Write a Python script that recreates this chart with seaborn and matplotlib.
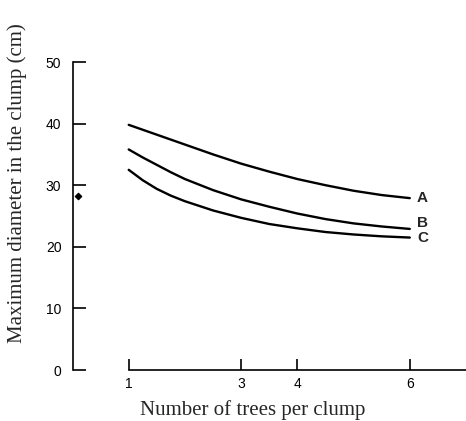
import pandas as pd
import matplotlib
matplotlib.use('Agg')
import matplotlib.pyplot as plt
import seaborn as sns

# number of trees per clump
trees = [1, 1.25, 1.5, 1.75, 2, 2.5, 3, 3.5, 4, 4.5, 5, 5.5, 6]
# maximum diameter (cm)
diam_a = [39.8, 39.0, 38.2, 37.4, 36.6, 35.0, 33.5, 32.2, 31.0, 30.0, 29.1, 28.4, 27.9]
diam_b = [35.8, 34.5, 33.3, 32.1, 31.0, 29.2, 27.7, 26.5, 25.4, 24.5, 23.8, 23.3, 22.9]
diam_c = [32.5, 30.8, 29.4, 28.3, 27.4, 25.9, 24.7, 23.7, 23.0, 22.4, 22.0, 21.7, 21.5]
curve_names = ['A', 'B', 'C']
label_y = [27.9, 23.9, 21.4]
x_ticks = [1, 3, 4, 6]
y_ticks = [0, 10, 20, 30, 40, 50]
# stray dot next to the y axis
dot_x = [0.1]
dot_y = [28.2]

df = pd.DataFrame({
    'trees': trees * 3,
    'diam': diam_a + diam_b + diam_c,
    'curve': [n for n in curve_names for _ in trees],
})

sns.set_theme(style='ticks')
plt.rcParams['font.family'] = ['Liberation Sans', 'DejaVu Sans']

fig = plt.figure(figsize=(4.66, 4.21), dpi=100)
ax = fig.add_axes([72.5 / 466, 51 / 421, (466 - 72.5) / 466, 308 / 421])

sns.lineplot(data=df, x='trees', y='diam', hue='curve',
             palette=['black'] * 3, linewidth=1.7, legend=False, ax=ax)
for line in ax.lines:
    line.set_solid_joinstyle('round')
    line.set_solid_capstyle('round')
ax.scatter(dot_x, dot_y, marker='D', s=10, color='black', zorder=3)

# curve labels at the right ends
for name, ly in zip(curve_names, label_y):
    ax.text(trees[-1] + 0.13, ly, name,
            fontsize=11, fontweight='bold', va='center', ha='left')

ax.set_xlim(0, 7)
ax.set_ylim(0, 50)
ax.set_xticks(x_ticks)
ax.set_yticks(y_ticks)
ax.set_xticklabels([str(t) for t in x_ticks])
ax.set_yticklabels([str(t) for t in y_ticks])
ax.set_xlabel('')
ax.set_ylabel('')

sns.despine(ax=ax)
ax.spines['left'].set_bounds(0, 50)
ax.spines['bottom'].set_bounds(1, 7)
for s in ['left', 'bottom']:
    ax.spines[s].set_linewidth(1.2)
    ax.spines[s].set_color('black')
ax.tick_params(axis='y', direction='in', length=9, width=1.2, pad=8,
               labelsize=10, colors='black')
ax.tick_params(axis='x', direction='in', length=8, width=1.2, pad=5,
               labelsize=10, colors='black')

fig.text(253 / 466, 1 - 410 / 421, 'Number of trees per clump',
         family='Liberation Serif', fontsize=15, ha='center', va='center')
fig.text(17 / 466, 1 - 183 / 421, 'Maximum diameter in the clump (cm)',
         family='Liberation Serif', fontsize=15, ha='center', va='center',
         rotation=90)

fig.savefig('out.png', dpi=100)
